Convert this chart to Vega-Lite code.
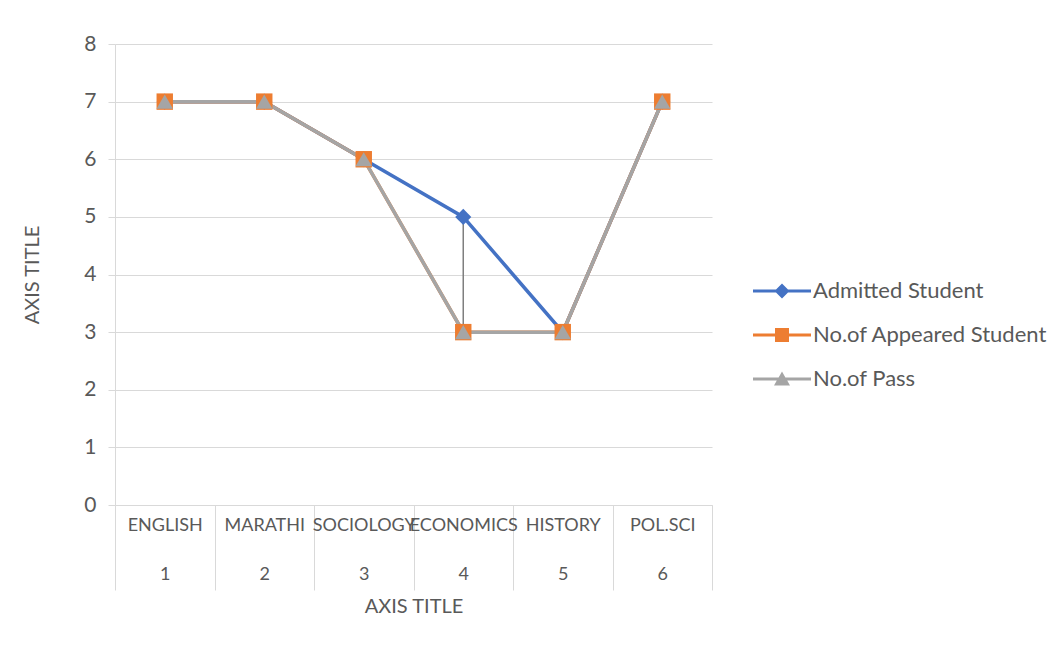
{
  "$schema": "https://vega.github.io/schema/vega-lite/v6.json",
  "width": 597,
  "height": 461,
  "autosize": {"type": "none"},
  "padding": {"left": 115, "top": 44, "right": 352, "bottom": 143},
  "background": "white",
  "config": {
    "font": "Lato",
    "view": {"stroke": null},
    "axis": {"labelColor": "#595959", "titleColor": "#595959", "titleFontWeight": "normal", "domainColor": "#d9d9d9", "tickColor": "#d9d9d9", "gridColor": "#d9d9d9"}
  },
  "data": {
    "values": [
      {"cat": "ENGLISH|1", "series": "Admitted Student", "value": 7},
      {"cat": "MARATHI|2", "series": "Admitted Student", "value": 7},
      {"cat": "SOCIOLOGY|3", "series": "Admitted Student", "value": 6},
      {"cat": "ECONOMICS|4", "series": "Admitted Student", "value": 5},
      {"cat": "HISTORY|5", "series": "Admitted Student", "value": 3},
      {"cat": "POL.SCI|6", "series": "Admitted Student", "value": 7},
      {"cat": "ENGLISH|1", "series": "No.of Appeared Student", "value": 7},
      {"cat": "MARATHI|2", "series": "No.of Appeared Student", "value": 7},
      {"cat": "SOCIOLOGY|3", "series": "No.of Appeared Student", "value": 6},
      {"cat": "ECONOMICS|4", "series": "No.of Appeared Student", "value": 3},
      {"cat": "HISTORY|5", "series": "No.of Appeared Student", "value": 3},
      {"cat": "POL.SCI|6", "series": "No.of Appeared Student", "value": 7},
      {"cat": "ENGLISH|1", "series": "No.of Pass", "value": 7},
      {"cat": "MARATHI|2", "series": "No.of Pass", "value": 7},
      {"cat": "SOCIOLOGY|3", "series": "No.of Pass", "value": 6},
      {"cat": "ECONOMICS|4", "series": "No.of Pass", "value": 3},
      {"cat": "HISTORY|5", "series": "No.of Pass", "value": 3},
      {"cat": "POL.SCI|6", "series": "No.of Pass", "value": 7}
    ]
  },
  "encoding": {
    "x": {
      "field": "cat",
      "type": "nominal",
      "sort": null,
      "scale": {"paddingInner": 0, "paddingOuter": 0},
      "axis": {
        "labelExpr": "split(datum.label, '|')",
        "labelAngle": 0,
        "labelFontSize": 18,
        "labelLineHeight": 49,
        "labelPadding": -74,
        "tickBand": "extent",
        "tickSize": 85,
        "title": "AXIS TITLE",
        "titleFontSize": 20,
        "titlePadding": 6
      }
    },
    "y": {
      "field": "value",
      "type": "quantitative",
      "scale": {"domain": [0, 8]},
      "axis": {
        "values": [0, 1, 2, 3, 4, 5, 6, 7, 8],
        "format": "d",
        "grid": true,
        "tickSize": 7,
        "labelFontSize": 21,
        "labelPadding": 12,
        "title": "AXIS TITLE",
        "titleFontSize": 20,
        "titlePadding": 41
      }
    }
  },
  "layer": [
    {
      "transform": [{"aggregate": [{"op": "min", "field": "value", "as": "lo"}, {"op": "max", "field": "value", "as": "hi"}], "groupby": ["cat"]}],
      "mark": {"type": "rule", "color": "#7f7f7f", "strokeWidth": 1.5},
      "encoding": {
        "y": {"field": "lo", "type": "quantitative"},
        "y2": {"field": "hi"}
      }
    },
    {
      "mark": {"type": "line", "strokeWidth": 3.5},
      "encoding": {
        "color": {
          "field": "series",
          "type": "nominal",
          "scale": {"domain": ["Admitted Student", "No.of Appeared Student", "No.of Pass"], "range": ["#4472C4", "#ED7D31", "#A5A5A5"]},
          "legend": {
            "orient": "none",
            "legendX": 656,
            "legendY": 236,
            "title": null,
            "symbolSize": 400,
            "labelFontSize": 22,
            "labelLimit": 0,
            "labelColor": "#595959",
            "labelOffset": 20,
            "rowPadding": 22,
            "encode": {
              "symbols": {
                "update": {
                  "shape": {"signal": "datum.value == 'Admitted Student' ? 'M-2.9,-0.15H-0.6L0,-0.75L0.6,-0.15H2.9V0.15H0.6L0,0.75L-0.6,0.15H-2.9Z' : datum.value == 'No.of Appeared Student' ? 'M-2.9,-0.15H-0.7V-0.7H0.7V-0.15H2.9V0.15H0.7V0.7H-0.7V0.15H-2.9Z' : 'M-2.9,-0.15H-0.34L0,-0.75L0.34,-0.15H2.9V0.15H0.52L0.8,0.65H-0.8L-0.52,0.15H-2.9Z'"},
                  "fill": {"signal": "datum.value == 'Admitted Student' ? '#4472C4' : datum.value == 'No.of Appeared Student' ? '#ED7D31' : '#A5A5A5'"},
                  "stroke": {"value": "transparent"},
                  "strokeWidth": {"value": 0},
                  "opacity": {"value": 1}
                }
              }
            }
          }
        }
      }
    },
    {
      "transform": [{"filter": "datum.series == 'Admitted Student'"}],
      "mark": {"type": "point", "filled": true, "size": 260, "opacity": 1, "shape": "diamond", "color": "#4472C4"}
    },
    {
      "transform": [{"filter": "datum.series == 'No.of Appeared Student'"}],
      "mark": {"type": "point", "filled": true, "size": 270, "opacity": 1, "shape": "square", "color": "#ED7D31"}
    },
    {
      "transform": [{"filter": "datum.series == 'No.of Pass'"}],
      "mark": {"type": "point", "filled": true, "size": 270, "opacity": 1, "shape": "triangle-up", "color": "#A5A5A5"}
    }
  ]
}
